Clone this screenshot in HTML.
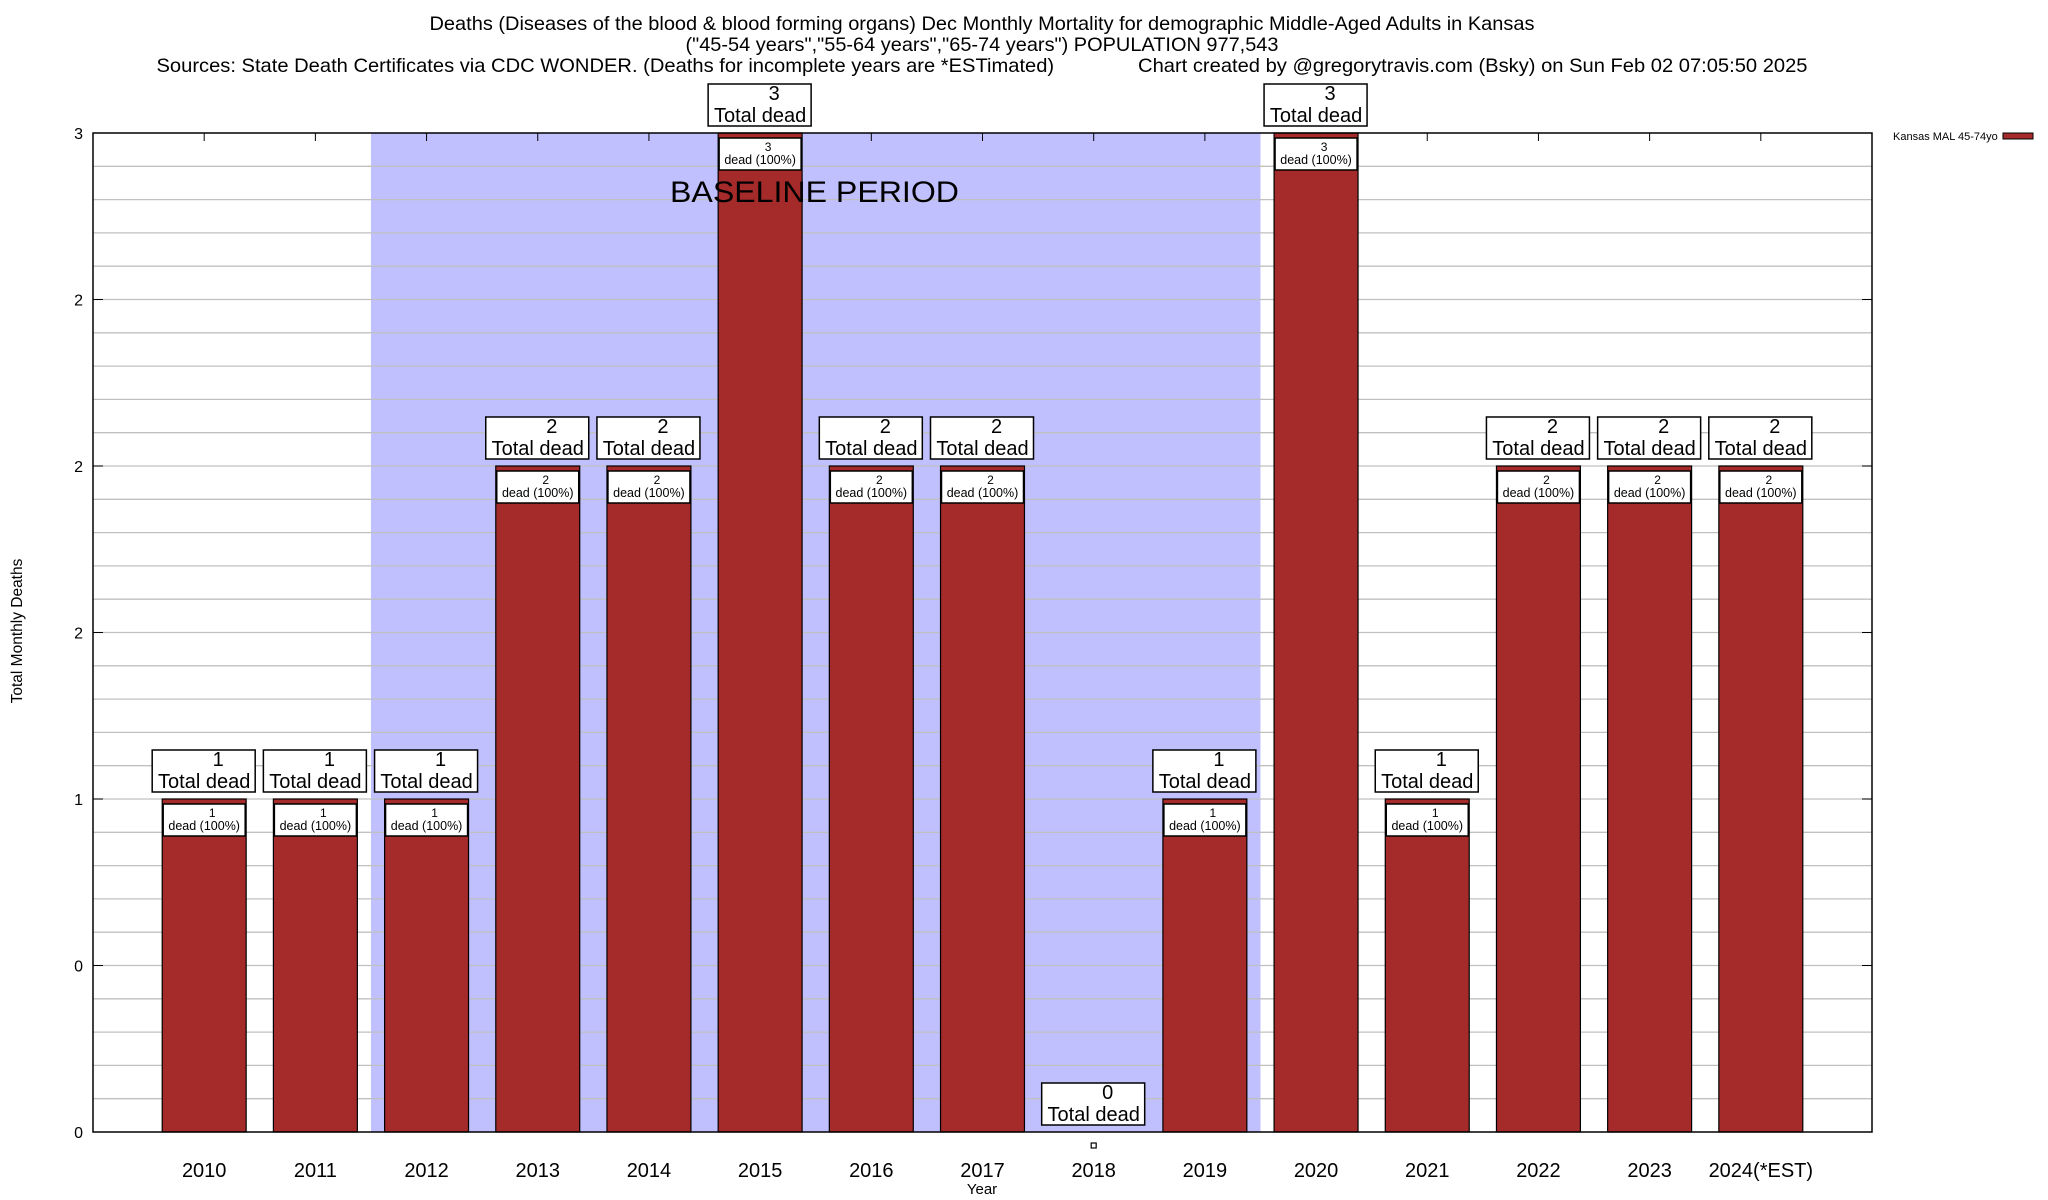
<!DOCTYPE html>
<html><head><meta charset="utf-8"><style>
html,body{margin:0;padding:0;background:#fff}
svg{display:block;font-family:"Liberation Sans",Arial,sans-serif}
</style></head><body>
<svg id="chart" width="2048" height="1200" viewBox="0 0 2048 1200" xmlns="http://www.w3.org/2000/svg">
<g font-size="19.5" text-anchor="middle">
<text x="982" y="30" textLength="1105" lengthAdjust="spacingAndGlyphs">Deaths (Diseases of the blood &amp; blood forming organs) Dec Monthly Mortality for demographic Middle-Aged Adults in Kansas</text>
<text x="982" y="51" textLength="593" lengthAdjust="spacingAndGlyphs">("45-54 years","55-64 years","65-74 years") POPULATION 977,543</text>
<text x="982" y="72" xml:space="preserve" textLength="1651" lengthAdjust="spacingAndGlyphs">Sources: State Death Certificates via CDC WONDER. (Deaths for incomplete years are *ESTimated)               Chart created by @gregorytravis.com (Bsky) on Sun Feb 02 07:05:50 2025</text>
</g>
<g id="plot"></g>
<text x="22" y="631" font-size="15.5" text-anchor="middle" transform="rotate(-90 22 631)">Total Monthly Deaths</text>
<text x="982" y="1194" font-size="15" text-anchor="middle">Year</text>
<g>
<text x="1893" y="140" font-size="11">Kansas MAL 45-74yo</text>
<rect x="2003" y="133" width="30" height="6" fill="#a52a2a" stroke="#000" stroke-width="1"/>
</g>
</svg>
<script>
const categories = ["2010","2011","2012","2013","2014","2015","2016","2017","2018","2019","2020","2021","2022","2023","2024(*EST)"];
const deaths = [1,1,1,2,2,3,2,2,0,1,3,1,2,2,2];
const percents = ["100%","100%","100%","100%","100%","100%","100%","100%","","100%","100%","100%","100%","100%","100%"];
const yTicks = [0,0.5,1,1.5,2,2.5,3];
const yTickLabels = ["0","0","1","2","2","2","3"];
const yMax = 3;
const baselineStart = 1.5, baselineEnd = 9.5;

const NS = "http://www.w3.org/2000/svg";
const L = 93, R = 1872, T = 133, B = 1132;
const slot = (R - L) / (categories.length + 1);
const xPos = i => L + slot * (i + 1);
const yPos = v => B - (v / yMax) * (B - T);
const plot = document.getElementById('plot');
function mk(tag, attrs, parent, text) {
  const e = document.createElementNS(NS, tag);
  for (const k in attrs) e.setAttribute(k, attrs[k]);
  if (text !== undefined) e.textContent = text;
  (parent || plot).appendChild(e);
  return e;
}
const shade = mk('rect', {x: xPos(baselineStart), y: T, width: xPos(baselineEnd) - xPos(baselineStart), height: B - T, fill: '#c0c0ff'});


for (let k = 1; k < 30; k++) {
  const y = yPos(k / 10);
  const g = mk('line', {x1: L, x2: R, y1: y, y2: y, stroke: '#c0c0c0', 'stroke-width': 1.3});
  
  
}
yTicks.forEach((v, i) => {
  const y = yPos(v);
  const t = mk('text', {x: 83, y: y + 6, 'font-size': 16, 'text-anchor': 'end'}, plot, yTickLabels[i]);
  
  
  mk('line', {x1: L, x2: L + 10, y1: y, y2: y, stroke: '#000'});
  mk('line', {x1: R - 10, x2: R, y1: y, y2: y, stroke: '#000'});
});
const bw = slot * 0.755;
categories.forEach((c, i) => {
  const cx = xPos(i), v = deaths[i], top = yPos(v);
  mk('line', {x1: cx, x2: cx, y1: T, y2: T + 8, stroke: '#000'});
  if (v > 0) {
    const bar = mk('rect', {x: cx - bw / 2, y: top, width: bw, height: B - top, fill: '#a52a2a', stroke: '#000', 'stroke-width': 1.2});
    
    
    const ib = mk('rect', {x: cx - 41, y: top + 5, width: 82, height: 32, fill: '#fff', stroke: '#000', 'stroke-width': 1.5});
    
    
    mk('text', {x: cx + 8, y: top + 18, 'font-size': 12, 'text-anchor': 'middle'}, plot, String(v));
    mk('text', {x: cx, y: top + 31, 'font-size': 12.5, 'text-anchor': 'middle'}, plot, 'dead (' + percents[i] + ')');
  } else {
    const m = mk('rect', {x: cx - 2.5, y: 1143, width: 5, height: 5, fill: '#fff', stroke: '#000', 'stroke-width': 1.2});
    
    
  }
  const bb = top - 7;
  const box = mk('rect', {x: cx - 52, y: bb - 42, width: 103, height: 42, fill: '#fff', stroke: '#000', 'stroke-width': 1.5});
  
  
  mk('text', {x: cx + 14, y: bb - 26, 'font-size': 20, 'text-anchor': 'middle'}, plot, String(v));
  mk('text', {x: cx, y: bb - 4, 'font-size': 20, 'text-anchor': 'middle'}, plot, 'Total dead');
  const xl = mk('text', {x: cx, y: 1177, 'font-size': 20, 'text-anchor': 'middle'}, plot, c);
  
  
});
const bp = mk('text', {x: 670, y: 202, 'font-size': 30, textLength: 289, lengthAdjust: 'spacingAndGlyphs'}, plot, 'BASELINE PERIOD');


const fr = mk('rect', {x: L, y: T, width: R - L, height: B - T, fill: 'none', stroke: '#000', 'stroke-width': 1.5});


</script>
</body></html>
